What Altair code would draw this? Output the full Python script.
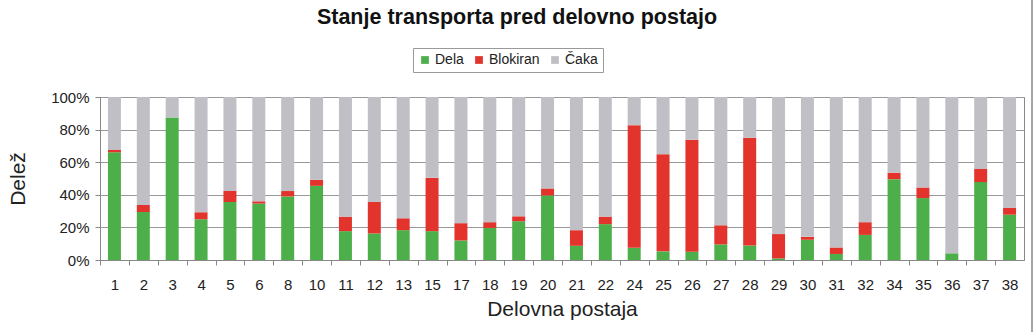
import altair as alt
import pandas as pd

stations = ["1", "2", "3", "4", "5", "6", "8", "10", "11", "12", "13", "15", "17", "18", "19", "20",
            "21", "22", "24", "25", "26", "27", "28", "29", "30", "31", "32", "34", "35", "36", "37", "38"]
dela = [66.1, 29.5, 87.4, 25.0, 35.6, 34.6, 39.0, 45.5, 17.7, 16.3, 18.3, 17.7, 12.0, 19.7, 23.8, 39.6,
        8.7, 22.0, 7.5, 5.3, 5.1, 9.6, 8.9, 1.0, 12.4, 3.7, 15.4, 49.6, 38.0, 4.1, 47.8, 27.8]
blokiran = [1.4, 4.2, 0.0, 4.3, 6.7, 1.4, 3.3, 3.7, 8.9, 19.3, 7.3, 32.7, 10.6, 3.5, 3.0, 4.3,
            9.6, 4.6, 75.2, 59.6, 68.7, 11.7, 66.1, 14.9, 1.8, 4.0, 7.8, 3.9, 6.5, 0.0, 8.1, 4.3]
caka = [32.5, 66.3, 12.6, 70.7, 57.7, 64.0, 57.7, 50.8, 73.4, 64.4, 74.4, 49.6, 77.4, 76.8, 73.2, 56.1,
        81.7, 73.4, 17.3, 35.1, 26.2, 78.7, 25.0, 84.1, 85.8, 92.3, 76.8, 46.5, 55.5, 95.9, 44.1, 67.9]

statuses = ["Dela", "Blokiran", "Čaka"]
colors = ["#4DAF4A", "#E2332C", "#BFBFC5"]
y_ticks = [0, 0.2, 0.4, 0.6, 0.8, 1.0]

rows = []
for i, s in enumerate(stations):
    for k, (name, series) in enumerate(zip(statuses, [dela, blokiran, caka])):
        rows.append({"postaja": s, "stanje": name, "vrednost": series[i], "red": k})
df = pd.DataFrame(rows)

W, H = 924, 163
step = W / len(stations)

bars = alt.Chart(df).mark_bar().encode(
    x=alt.X("postaja:N", sort=stations,
            scale=alt.Scale(paddingInner=0.55, paddingOuter=0.275),
            axis=alt.Axis(title="Delovna postaja", labelAngle=0, tickOffset=-step / 2,
                          labelOffset=step / 2, tickSize=5, tickColor="#888888",
                          domainColor="#888888", labelPadding=12, labelFontSize=15,
                          labelColor="#222222", titleFontSize=21, titleFontWeight="normal",
                          titlePadding=6, titleColor="#222222")),
    y=alt.Y("vrednost:Q", stack="normalize", scale=alt.Scale(domain=[0, 1]),
            axis=alt.Axis(title="Delež", format=".0%", values=y_ticks, grid=True,
                          gridColor="#999999", tickSize=5, tickColor="#888888",
                          domainColor="#888888", labelPadding=6, labelFontSize=15,
                          labelColor="#222222", titleFontSize=21, titleFontWeight="normal",
                          titlePadding=22, titleColor="#222222")),
    color=alt.Color("stanje:N", scale=alt.Scale(domain=statuses, range=colors),
                    legend=alt.Legend(title=None, orient="none", legendX=313, legendY=-49,
                                      direction="horizontal", symbolType="square",
                                      symbolSize=60, symbolStrokeWidth=0,
                                      labelFontSize=14, labelColor="#222222", labelOffset=3,
                                      columnPadding=8, padding=5, strokeColor="#999999",
                                      fillColor="white")),
    order=alt.Order("red:Q", sort="ascending"),
)

frame_df = pd.DataFrame({"k": [0]})
frame = alt.Chart(frame_df).mark_rule(color="#888888", strokeWidth=1.5).encode(
    x=alt.value(W + 8), y=alt.value(-97), y2=alt.value(H + 72)
)

chart = alt.layer(bars, frame).properties(
    width=W, height=H,
    title=alt.TitleParams("Stanje transporta pred delovno postajo", fontSize=21.5,
                          fontWeight="bold", anchor="middle", offset=-29, dx=-45,
                          color="#111111"),
    autosize=alt.AutoSizeParams(type="none"),
    padding={"left": 100, "top": 97, "right": 9, "bottom": 72},
).configure(font="Liberation Sans").configure_view(stroke="#888888").configure_axisX(
    grid=False
)

chart.save("out.html", embed_options={"renderer": "svg", "actions": False})
